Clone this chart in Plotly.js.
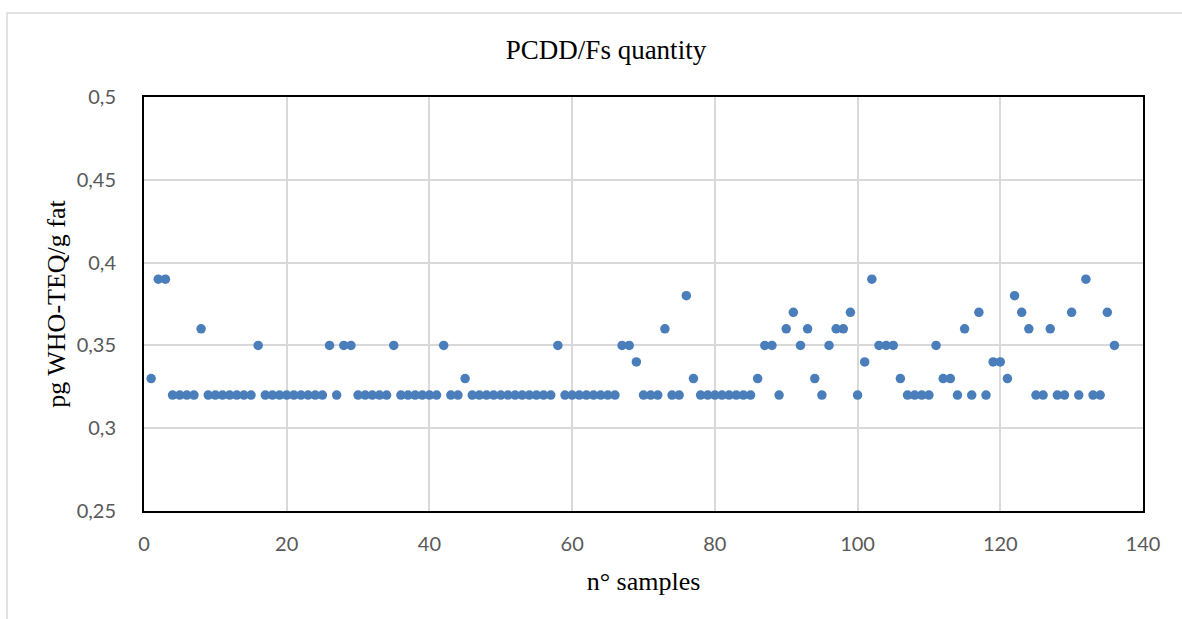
<!DOCTYPE html>
<html>
<head>
<meta charset="utf-8">
<script src="https://cdn.plot.ly/plotly-3.0.1.min.js"></script>
<style>
  html, body { margin: 0; padding: 0; background: #ffffff; }
  #chart { width: 1182px; height: 619px; }
</style>
</head>
<body>
<div id="chart"></div>
<script>
// Sample numbers 1..136
const sampleNumbers = [
  1,2,3,4,5,6,7,8,9,10,11,12,13,14,15,16,17,18,19,20,
  21,22,23,24,25,26,27,28,29,30,31,32,33,34,35,36,37,38,39,40,
  41,42,43,44,45,46,47,48,49,50,51,52,53,54,55,56,57,58,59,60,
  61,62,63,64,65,66,67,68,69,70,71,72,73,74,75,76,77,78,79,80,
  81,82,83,84,85,86,87,88,89,90,91,92,93,94,95,96,97,98,99,100,
  101,102,103,104,105,106,107,108,109,110,111,112,113,114,115,116,117,118,119,120,
  121,122,123,124,125,126,127,128,129,130,131,132,133,134,135,136
];

// PCDD/Fs quantity (pg WHO-TEQ/g fat)
const pcddValues = [
  0.33,0.39,0.39,0.32,0.32,0.32,0.32,0.36,0.32,0.32,  // 1-10
  0.32,0.32,0.32,0.32,0.32,0.35,0.32,0.32,0.32,0.32,  // 11-20
  0.32,0.32,0.32,0.32,0.32,0.35,0.32,0.35,0.35,0.32,  // 21-30
  0.32,0.32,0.32,0.32,0.35,0.32,0.32,0.32,0.32,0.32,  // 31-40
  0.32,0.35,0.32,0.32,0.33,0.32,0.32,0.32,0.32,0.32,  // 41-50
  0.32,0.32,0.32,0.32,0.32,0.32,0.32,0.35,0.32,0.32,  // 51-60
  0.32,0.32,0.32,0.32,0.32,0.32,0.35,0.35,0.34,0.32,  // 61-70
  0.32,0.32,0.36,0.32,0.32,0.38,0.33,0.32,0.32,0.32,  // 71-80
  0.32,0.32,0.32,0.32,0.32,0.33,0.35,0.35,0.32,0.36,  // 81-90
  0.37,0.35,0.36,0.33,0.32,0.35,0.36,0.36,0.37,0.32,  // 91-100
  0.34,0.39,0.35,0.35,0.35,0.33,0.32,0.32,0.32,0.32,  // 101-110
  0.35,0.33,0.33,0.32,0.36,0.32,0.37,0.32,0.34,0.34,  // 111-120
  0.33,0.38,0.37,0.36,0.32,0.32,0.36,0.32,0.32,0.37,  // 121-130
  0.32,0.39,0.32,0.32,0.37,0.35                       // 131-136
];

const xTickValues = [0, 20, 40, 60, 80, 100, 120, 140];
const xTickLabels = ["0", "20", "40", "60", "80", "100", "120", "140"];
const yTickValues = [0.25, 0.3, 0.35, 0.4, 0.45, 0.5];
const yTickLabels = ["0,25", "0,3", "0,35", "0,4", "0,45", "0,5"];

const chartTitle = "PCDD/Fs quantity";
const xTitle = "n° samples";
const yTitle = "pg WHO-TEQ/g fat";

const serif = "'Liberation Serif', 'Times New Roman', serif";
const sans = "Lato, 'Open Sans', sans-serif";

const trace = {
  type: "scatter",
  mode: "markers",
  x: sampleNumbers,
  y: pcddValues,
  marker: { color: "#4a7ebb", size: 9.5, line: { width: 0 } },
  cliponaxis: false,
  hoverinfo: "x+y"
};

const layout = {
  width: 1182,
  height: 619,
  paper_bgcolor: "#ffffff",
  plot_bgcolor: "#ffffff",
  margin: { l: 144, r: 39, t: 97, b: 108 },
  showlegend: false,
  title: {
    text: chartTitle,
    font: { family: serif, size: 27, color: "#000000" },
    xref: "container", x: 606 / 1182, xanchor: "center",
    yref: "container", y: 1 - 50 / 619, yanchor: "middle"
  },
  xaxis: {
    range: [0, 140],
    tickvals: xTickValues,
    ticktext: xTickLabels,
    showgrid: true,
    gridcolor: "#d9d9d9",
    gridwidth: 2,
    zeroline: false,
    showline: true,
    linecolor: "#000000",
    linewidth: 2,
    mirror: true,
    ticks: "",
    ticklabelstandoff: 14,
    tickfont: { family: sans, size: 20, color: "#595959" },
    title: {
      text: xTitle,
      font: { family: serif, size: 26, color: "#000000" },
      standoff: 18
    }
  },
  yaxis: {
    range: [0.25, 0.5],
    tickvals: yTickValues,
    ticktext: yTickLabels,
    showgrid: true,
    gridcolor: "#d9d9d9",
    gridwidth: 2,
    zeroline: false,
    showline: true,
    linecolor: "#000000",
    linewidth: 2,
    mirror: true,
    ticks: "",
    ticklabelstandoff: 22,
    tickfont: { family: sans, size: 20, color: "#595959" },
    title: {
      text: yTitle,
      font: { family: serif, size: 26, color: "#000000" },
      standoff: 4
    }
  },
  shapes: [
    {
      type: "rect",
      xref: "paper", yref: "paper",
      x0: (7 - 144) / 999, x1: (1200 - 144) / 999,
      y0: (511 - 640) / 414, y1: (511 - 13) / 414,
      line: { color: "#d9d9d9", width: 1.5 },
      fillcolor: "rgba(0,0,0,0)",
      layer: "below"
    }
  ]
};

Plotly.newPlot("chart", [trace], layout, { displayModeBar: false, staticPlot: true });
</script>
</body>
</html>
